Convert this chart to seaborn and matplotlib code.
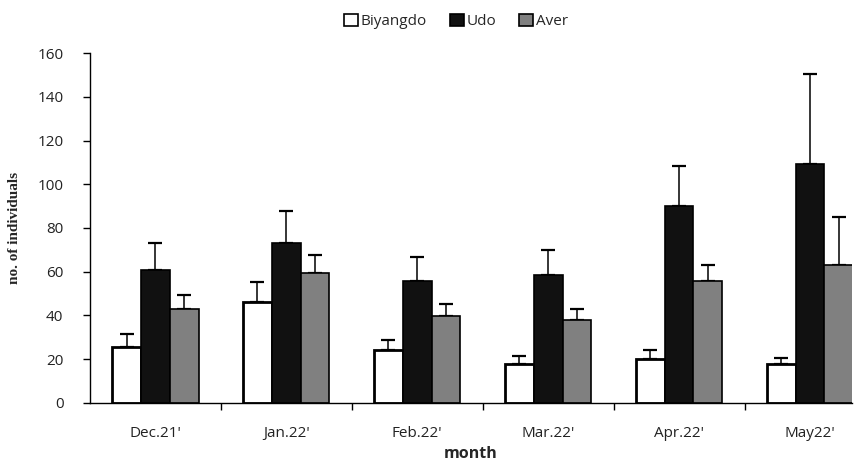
import numpy as np
import pandas as pd
import matplotlib
matplotlib.use('Agg')
import matplotlib.pyplot as plt
import seaborn as sns
from matplotlib.patches import Patch

# data
months = ["Dec.21'", "Jan.22'", "Feb.22'", "Mar.22'", "Apr.22'", "May22'"]
sites = ['Biyangdo', 'Udo', 'Aver']
biyangdo = [25.7, 46.2, 24.1, 17.7, 20.0, 17.7]
udo = [60.8, 73.1, 55.5, 58.4, 90.2, 109.1]
aver = [43.0, 59.6, 39.5, 37.8, 55.6, 63.1]
biyangdo_err = [5.7, 9.1, 4.7, 3.6, 4.2, 3.0]
udo_err = [12.2, 14.7, 11.1, 11.7, 18.1, 41.2]
aver_err = [6.5, 8.1, 5.9, 5.3, 7.3, 21.9]

colors = {'Biyangdo': 'white', 'Udo': '#111111', 'Aver': '#808080'}

df = pd.DataFrame({
    'month': months * 3,
    'site': [s for s in sites for _ in months],
    'value': biyangdo + udo + aver,
})
errs = [biyangdo_err, udo_err, aver_err]

sns.set_style('white')
plt.rcParams['font.family'] = ['Open Sans', 'DejaVu Sans']

fig = plt.figure(figsize=(8.64, 4.70), dpi=100)
ax = fig.add_axes([0.104, 0.143, 0.882, 0.744])

sns.barplot(data=df, x='month', y='value', hue='site', order=months,
            hue_order=sites, palette=colors, width=0.66, gap=0,
            edgecolor='black', linewidth=1.2, legend=False, ax=ax)

# one-sided error bars placed on the bars seaborn drew
for cont, err in zip(ax.containers, errs):
    xs = [b.get_x() + b.get_width() / 2 for b in cont]
    ys = [b.get_height() for b in cont]
    ax.errorbar(xs, ys, yerr=[np.zeros(len(err)), err], fmt='none',
                ecolor='black', elinewidth=1.1, capsize=5, capthick=1.6, zorder=1)
    for b in cont:
        b.set_zorder(2)
# thicker outline on the white bars
for b in ax.containers[0]:
    b.set_linewidth(2.0)

ax.set_ylim(0, 160)
ax.set_yticks(range(0, 161, 20))
ax.set_xlim(-0.5, 5.32)
ax.set_xticks(range(len(months)))
ax.set_xticklabels(months, fontsize=11, color='#222222')
ax.tick_params(axis='x', which='major', length=0, pad=17)
ax.set_xticks(np.arange(0.5, 5.0, 1.0), minor=True)
ax.tick_params(axis='x', which='minor', length=5, width=1, color='black', direction='out')
ax.tick_params(axis='y', length=5, width=1, color='black', direction='out',
               labelsize=11, labelcolor='#222222', pad=14)
ax.yaxis.set_ticks_position('left')
ax.xaxis.set_ticks_position('bottom')

for side in ['top', 'right']:
    ax.spines[side].set_visible(False)
for side in ['left', 'bottom']:
    ax.spines[side].set_color('black')
    ax.spines[side].set_linewidth(1.0)

ax.set_xlabel('month', fontsize=11.5, fontweight='bold', labelpad=3)
ax.set_ylabel('no. of individuals', fontsize=11, fontweight='bold',
              family='Liberation Serif', labelpad=12)

handles = [Patch(facecolor=colors[s], edgecolor='black', linewidth=1.2, label=s) for s in sites]
fig.legend(handles=handles, loc='upper center', bbox_to_anchor=(0.528, 1.0), ncol=3,
           frameon=False, fontsize=11, handlelength=0.9, handleheight=0.9,
           handletextpad=0.2, columnspacing=1.5)

fig.savefig('out.png', dpi=100)
